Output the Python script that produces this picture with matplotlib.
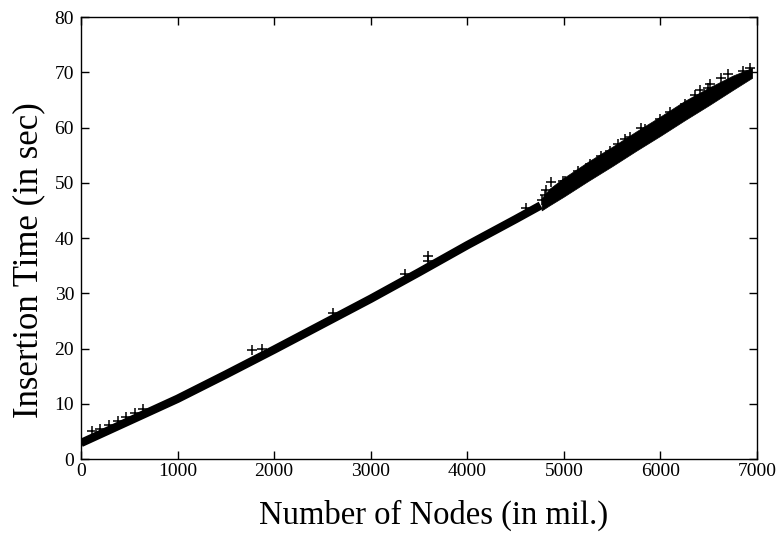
import matplotlib
matplotlib.use("Agg")
import matplotlib.pyplot as plt

# main trend (dense run of points before the jump)
base_nodes = [0, 500, 1000, 1500, 2000, 2500, 3000, 3500, 4000, 4500, 4760]
base_time = [2.9, 6.9, 10.9, 15.3, 19.8, 24.4, 29.0, 33.8, 38.7, 43.4, 45.9]

# after ~4770 the points spread into a wider band
spread_nodes = [4770, 4850, 5000, 5250, 5500, 5750, 6000, 6250, 6500, 6750, 6950]
spread_low = [45.0, 45.9, 47.5, 50.3, 53.0, 55.8, 58.5, 61.3, 64.0, 66.8, 69.0]
spread_high = [47.2, 48.9, 50.9, 53.8, 56.5, 59.3, 62.0, 64.8, 67.2, 69.4, 70.8]

# single points sitting above the band
outlier_nodes = [110, 200, 290, 380, 470, 560, 645, 1767, 1870, 2612, 3354,
                 3595, 3595, 4613, 4769, 4803, 4820, 4872, 4993, 5010, 5269,
                 5476, 5631, 5683, 5804, 5839, 5994, 6253, 6356, 6408, 6494,
                 6494, 6511, 6632, 6853, 6925, 5150, 5380, 5560, 6100, 6700]
outlier_time = [5.0, 5.4, 6.1, 6.8, 7.6, 8.3, 9.1, 19.8, 20.0, 26.4, 33.4,
                36.8, 35.9, 45.4, 46.8, 47.7, 48.6, 50.1, 50.4, 50.4, 53.4,
                55.8, 57.9, 58.3, 60.0, 59.7, 61.5, 64.2, 65.8, 66.7, 67.2,
                65.7, 67.9, 68.9, 70.2, 70.7, 52.2, 54.9, 57.0, 62.8, 69.6]

plt.rcParams['font.family'] = ['Liberation Serif', 'DejaVu Serif']

fig = plt.figure(figsize=(7.82, 5.38), dpi=100)
ax = fig.add_axes([0.1036, 0.1468, 0.8644, 0.8216])

ax.plot(base_nodes, base_time, color='black', lw=6, solid_capstyle='butt')
ax.fill_between(spread_nodes, spread_low, spread_high, color='black', lw=0.5)
ax.plot(outlier_nodes, outlier_time, '+', color='black', ms=7.5, mew=1.1)

ax.set_xlim(0, 7000)
ax.set_ylim(0, 80)
ax.set_xticks(range(0, 7001, 1000))
ax.set_yticks(range(0, 81, 10))
ax.tick_params(direction='in', length=6, width=1, top=True, right=True,
               labelsize=14)
ax.tick_params(axis='x', pad=3)
ax.tick_params(axis='y', pad=5)
for s in ax.spines.values():
    s.set_linewidth(1)

ax.set_xlabel('Number of Nodes (in mil.)', fontsize=23.5, va='center')
ax.set_ylabel('Insertion Time (in sec)', fontsize=25, va='center')
ax.xaxis.set_label_coords(0.522, -0.127)
ax.yaxis.set_label_coords(-0.077, 0.45)

fig.savefig('out.png', dpi=100)
